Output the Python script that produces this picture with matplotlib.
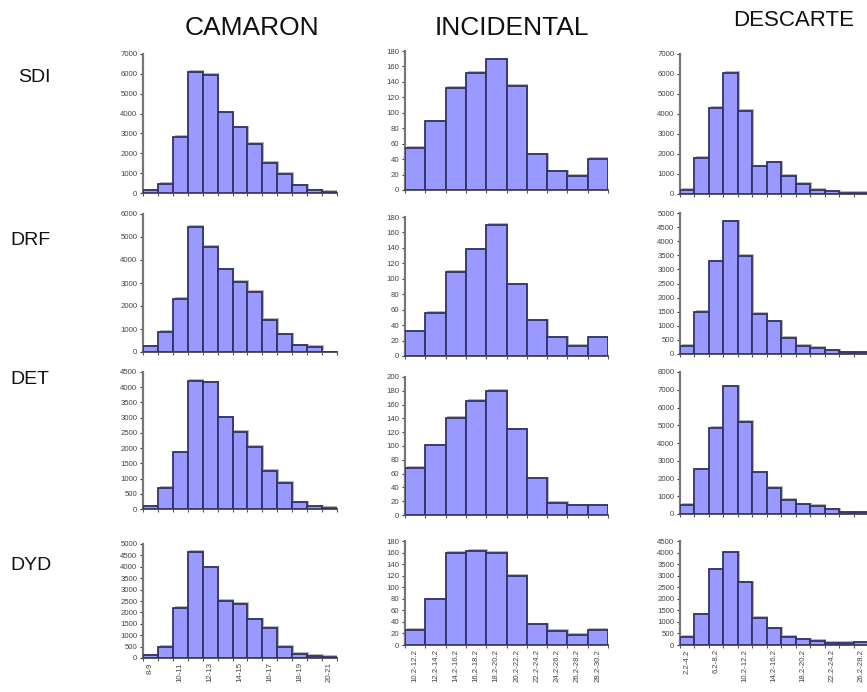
import matplotlib
matplotlib.use("Agg")
import matplotlib.pyplot as plt
from matplotlib import patheffects as pe
import numpy as np

plt.rcParams['font.family'] = ['Liberation Sans', 'DejaVu Sans']

# Size classes (bins) for each catch type
camaron_bins = ["8-9", "9-10", "10-11", "11-12", "12-13", "13-14", "14-15",
                "15-16", "16-17", "17-18", "18-19", "19-20", "20-21"]
incidental_bins = ["10.2-12.2", "12.2-14.2", "14.2-16.2", "16.2-18.2", "18.2-20.2",
                   "20.2-22.2", "22.2-24.2", "24.2-26.2", "26.2-28.2", "28.2-30.2"]
descarte_bins = ["2.2-4.2", "4.2-6.2", "6.2-8.2", "8.2-10.2", "10.2-12.2", "12.2-14.2",
                 "14.2-16.2", "16.2-18.2", "18.2-20.2", "20.2-22.2", "22.2-24.2",
                 "24.2-26.2", "26.2-28.2"]

row_names = ["SDI", "DRF", "DET", "DYD"]
col_names = ["CAMARON", "INCIDENTAL", "DESCARTE"]

# Frequencies per zone (rows) and catch type (columns)
camaron_sdi = [130, 470, 2830, 6090, 5950, 4060, 3300, 2480, 1520, 980, 390, 135, 50]
camaron_drf = [250, 870, 2300, 5450, 4580, 3590, 3050, 2620, 1410, 770, 290, 220, 20]
camaron_det = [87, 705, 1865, 4210, 4165, 3015, 2527, 2040, 1247, 868, 217, 87, 30]
camaron_dyd = [118, 485, 2206, 4647, 3970, 2500, 2368, 1690, 1323, 485, 190, 88, 44]

incidental_sdi = [55, 89, 132, 152, 169, 135, 46, 24, 18, 40]
incidental_drf = [32, 56, 109, 138, 170, 93, 46, 24, 13, 24]
incidental_det = [68, 101, 141, 165, 180, 124, 53, 18, 14, 14]
incidental_dyd = [26, 79, 160, 163, 160, 120, 36, 25, 18, 26]

descarte_sdi = [220, 1800, 4300, 6050, 4170, 1380, 1580, 920, 500, 220, 130, 50, 50]
descarte_drf = [295, 1490, 3290, 4700, 3490, 1420, 1160, 570, 295, 210, 130, 60, 60]
descarte_det = [505, 2510, 4850, 7190, 5190, 2340, 1480, 790, 540, 470, 260, 95, 95]
descarte_dyd = [360, 1325, 3270, 4006, 2709, 1181, 720, 360, 245, 173, 100, 100, 115]

# y-axis limits and tick steps
camaron_ymax = [7000, 6000, 4500, 5000]
camaron_ystep = [1000, 1000, 500, 500]
incidental_ymax = [180, 180, 200, 180]
incidental_ystep = [20, 20, 20, 20]
descarte_ymax = [7000, 5000, 8000, 4500]
descarte_ystep = [1000, 500, 1000, 500]

W, H = 867, 692
fig = plt.figure(figsize=(W / 100, H / 100), dpi=100)
fig.patch.set_facecolor("white")


def px_axes(left, top, right, bottom):
    return fig.add_axes([left / W, 1 - bottom / H, (right - left) / W, (bottom - top) / H])


# axes boxes in pixels: (left, top, right, bottom)
col_x = [(143, 337), (405, 608), (680, 868)]
row_y = [
    [(54, 193), (51, 190), (54, 194)],
    [(214, 352), (217, 356), (213, 354)],
    [(372, 509), (377, 515), (372, 514)],
    [(544, 658), (541, 645), (541, 645)],
]

data = [
    [camaron_sdi, incidental_sdi, descarte_sdi],
    [camaron_drf, incidental_drf, descarte_drf],
    [camaron_det, incidental_det, descarte_det],
    [camaron_dyd, incidental_dyd, descarte_dyd],
]
bins = [camaron_bins, incidental_bins, descarte_bins]
ymaxes = [camaron_ymax, incidental_ymax, descarte_ymax]
ysteps = [camaron_ystep, incidental_ystep, descarte_ystep]
label_every = [2, 1, 2]

bar_face = "#9999FF"
bar_edge = "#333366"
tick_fs = 5.6

for r in range(4):
    for c in range(3):
        left, right = col_x[c]
        top, bottom = row_y[r][c]
        ax = px_axes(left, top, right, bottom)
        vals = data[r][c]
        n = len(vals)
        x = np.arange(n)
        bars = ax.bar(x, vals, width=1.0, color=bar_face, edgecolor=bar_edge,
                      linewidth=1.3, zorder=3)
        for b in bars:
            b.set_path_effects([pe.SimplePatchShadow(offset=(1.2, 1.2), shadow_rgbFace="#888888",
                                                     alpha=0.6), pe.Normal()])
        ax.set_xlim(-0.5, n - 0.5)
        ymax = ymaxes[c][r]
        ax.set_ylim(0, ymax)
        ax.set_yticks(np.arange(0, ymax + 1, ysteps[c][r]))
        ax.tick_params(axis="y", labelsize=tick_fs, length=2, width=0.8, pad=2,
                       colors="#333333", labelcolor="#444444")
        for sp in ["top", "right"]:
            ax.spines[sp].set_visible(False)
        ax.spines["left"].set_color("#777777")
        ax.spines["left"].set_linewidth(1.6)
        ax.spines["bottom"].set_color("#555555")
        ax.spines["bottom"].set_linewidth(1.4)
        ax.set_xticks(np.arange(-0.5, n, 1.0), minor=True)
        ax.tick_params(axis="x", which="minor", length=2, width=0.8, colors="#555555")
        if r == 3:
            step = label_every[c]
            ax.set_xticks(x[::step])
            ax.set_xticklabels([bins[c][i] for i in x[::step]], rotation=90,
                               fontsize=tick_fs, color="#444444")
            ax.tick_params(axis="x", which="major", length=0, pad=3)
        else:
            ax.set_xticks([])
        ax.set_facecolor("none")

# column titles
title_spec = [(252, 28, 19), (512, 28, 19), (794, 20, 16)]
for name, (tx, ty, fs) in zip(col_names, title_spec):
    fig.text(tx / W, 1 - ty / H, name, ha="center", va="center", fontsize=fs, color="#111111")

# row labels
row_pos = [(18, 77), (10, 240), (10, 380), (10, 565)]
for name, (tx, ty) in zip(row_names, row_pos):
    fig.text(tx / W, 1 - ty / H, name, ha="left", va="center", fontsize=14, color="#111111")

fig.savefig("out.png", dpi=100, facecolor="white")
